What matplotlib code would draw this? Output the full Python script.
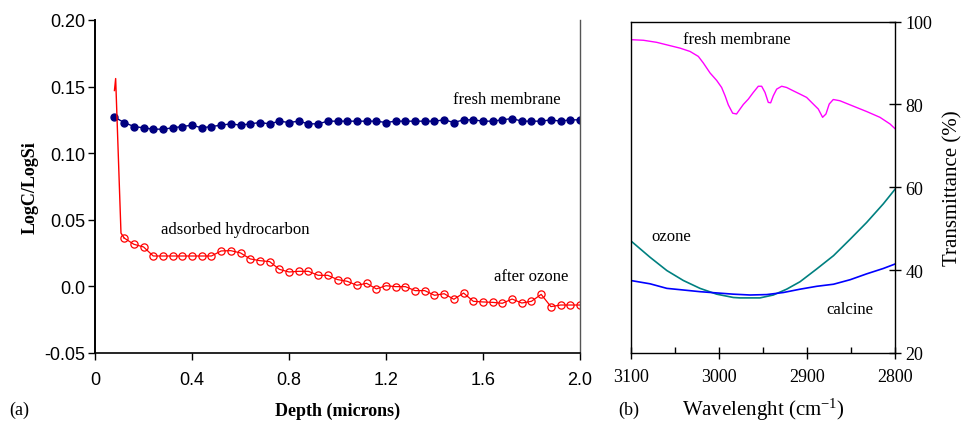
import matplotlib
matplotlib.use("Agg")
import matplotlib.pyplot as plt
from matplotlib.ticker import FixedLocator, FixedFormatter, MultipleLocator
import numpy as np

plt.rcParams["mathtext.fontset"] = "custom"
plt.rcParams["mathtext.rm"] = "Liberation Serif"
plt.rcParams["mathtext.it"] = "Liberation Serif:italic"
plt.rcParams["mathtext.bf"] = "Liberation Serif:bold"

# ---------------- data: panel (a) ----------------
depth_fresh = [round(0.08 + 0.04 * i, 2) for i in range(49)]
ratio_fresh = [0.127, 0.123, 0.120, 0.119, 0.118, 0.118, 0.119, 0.120, 0.121, 0.119,
               0.120, 0.121, 0.122, 0.121, 0.122, 0.123, 0.122, 0.124, 0.123, 0.124,
               0.122, 0.122, 0.124, 0.124, 0.124, 0.124, 0.124, 0.124, 0.123, 0.124,
               0.124, 0.124, 0.124, 0.124, 0.125, 0.123, 0.125, 0.125, 0.124, 0.124,
               0.125, 0.126, 0.124, 0.124, 0.124, 0.125, 0.124, 0.125, 0.125]

depth_lead = [0.080, 0.085, 0.107]
ratio_lead = [0.147, 0.156, 0.040]
depth_ozone = [round(0.12 + 0.04 * i, 2) for i in range(48)]
ratio_ozone = [0.0363, 0.0316, 0.0296, 0.0228, 0.0228, 0.0228, 0.0228, 0.0228, 0.0228, 0.0228,
               0.0266, 0.0268, 0.0251, 0.0206, 0.0193, 0.0186, 0.0128, 0.0108, 0.0113, 0.0113,
               0.0083, 0.0083, 0.0051, 0.0038, 0.0008, 0.0023, -0.0019, 0.0005, -0.0002, -0.0002,
               -0.0032, -0.0032, -0.0067, -0.0055, -0.0097, -0.0050, -0.0112, -0.0117, -0.0120, -0.0127,
               -0.0095, -0.0125, -0.0112, -0.0060, -0.0152, -0.0140, -0.0140, -0.0140]

a_xticks = [0, 0.4, 0.8, 1.2, 1.6, 2.0]
a_xticklabels = ["0", "0.4", "0.8", "1.2", "1.6", "2.0"]
a_yticks = [0.20, 0.15, 0.10, 0.05, 0.0, -0.05]
a_yticklabels = ["0.20", "0.15", "0.10", "0.05", "0.0", "-0.05"]

# ---------------- data: panel (b) ----------------
wn_fresh = [3100, 3085.6, 3070.5, 3055.4, 3044, 3032.7, 3023.3, 3017.6, 3010, 3002.5,
            2996.9, 2993, 2989.3, 2984.4, 2980, 2976, 2972.3, 2966.6, 2961, 2955.3,
            2951.5, 2947.7, 2944, 2941.3, 2938.3, 2934.5, 2928.8, 2923.2, 2915.7, 2908,
            2900.5, 2893, 2887.3, 2882.4, 2878.6, 2874.9, 2870.3, 2862.8, 2847.7, 2832.5,
            2817.4, 2806, 2800]
t_fresh = [95.65, 95.5, 95.0, 94.2, 93.6, 92.8, 91.6, 90.0, 87.6, 85.8,
           84.1, 82.1, 79.9, 77.9, 77.7, 78.9, 80.0, 81.3, 82.9, 84.4,
           84.4, 82.9, 80.5, 80.4, 82.1, 83.7, 84.4, 84.1, 83.3, 82.5,
           81.7, 80.1, 78.9, 76.9, 77.7, 80.1, 81.2, 80.9, 79.6, 78.3,
           76.9, 75.3, 74.1]

wn_ozone = [3100, 3078, 3059, 3040.3, 3021.4, 3002.5, 2983.6, 2976, 2953.4, 2938.3,
            2923.2, 2908, 2889, 2870, 2851, 2832.5, 2813.6, 2800]
t_ozone = [47.1, 43.1, 39.9, 37.5, 35.6, 34.2, 33.4, 33.3, 33.3, 34.0,
           35.4, 37.2, 40.3, 43.5, 47.5, 51.5, 56.0, 59.6]

wn_calcine = [3100, 3078, 3059, 3040, 3021.4, 3002.5, 2983.6, 2964.7, 2945.8, 2926.9,
              2908, 2889, 2870, 2851, 2832.5, 2813.6, 2800]
t_calcine = [37.5, 36.7, 35.6, 35.2, 34.8, 34.5, 34.2, 34.0, 34.1, 34.6,
             35.4, 36.1, 36.6, 37.7, 39.1, 40.4, 41.5]

b_yticks = [20, 40, 60, 80, 100]
b_xticks = [3100, 3000, 2900, 2800]

SERIF = ["Liberation Serif", "DejaVu Serif"]
SANS = ["Liberation Sans", "DejaVu Sans"]

fig = plt.figure(figsize=(9.61, 4.27), dpi=100)

# ---------------- panel (a) ----------------
ax = fig.add_axes([0.0989, 0.171, 0.5046, 0.780])
ax.plot(depth_fresh, ratio_fresh, color="#000080", marker="o", markersize=5,
        linewidth=1.0, markerfacecolor="#000080", markeredgecolor="#000080")
ax.plot(depth_lead + depth_ozone[:1], ratio_lead + ratio_ozone[:1], color="#ff0000", linewidth=1.0)
ax.plot(depth_ozone, ratio_ozone, color="#ff0000", marker="o", markersize=5.2,
        linewidth=0.9, markerfacecolor="none", markeredgecolor="#ff0000", markeredgewidth=0.9)
ax.set_xlim(0, 2.0)
ax.set_ylim(-0.05, 0.20)
ax.xaxis.set_major_locator(FixedLocator(a_xticks))
ax.xaxis.set_major_formatter(FixedFormatter(a_xticklabels))
ax.yaxis.set_major_locator(FixedLocator(a_yticks))
ax.yaxis.set_major_formatter(FixedFormatter(a_yticklabels))
ax.tick_params(direction="out", length=5, width=1.0, labelsize=13)
ax.tick_params(axis="x", pad=8)
ax.tick_params(axis="y", pad=2)
for lab in ax.get_xticklabels() + ax.get_yticklabels():
    lab.set_family(SANS)
ax.spines["top"].set_visible(False)
ax.spines["right"].set_color("#555555")
ax.spines["right"].set_linewidth(1.0)
ax.spines["left"].set_linewidth(1.4)
ax.spines["bottom"].set_linewidth(1.2)
ax.set_xlabel("Depth (microns)", family=SERIF, fontweight="bold", fontsize=13, labelpad=10)
ax.set_ylabel("LogC/LogSi", family=SERIF, fontweight="bold", fontsize=13, labelpad=4)
ax.text(1.70, 0.141, "fresh membrane", family=SERIF, fontsize=12, ha="center", va="center")
ax.text(0.577, 0.043, "adsorbed hydrocarbon", family=SERIF, fontsize=12, ha="center", va="center")
ax.text(1.80, 0.0078, "after ozone", family=SERIF, fontsize=12, ha="center", va="center")
fig.text(0.0198, 0.040, "(a)", family=SERIF, fontsize=13, ha="center", va="center")

# ---------------- panel (b) ----------------
bx = fig.add_axes([0.6563, 0.171, 0.2753, 0.776])
bx.plot(wn_fresh, t_fresh, color="#ff00ff", linewidth=1.0)
bx.plot(wn_ozone, t_ozone, color="#008080", linewidth=1.2)
bx.plot(wn_calcine, t_calcine, color="#0000ff", linewidth=1.2)
bx.set_xlim(3100, 2800)
bx.set_ylim(20, 100)
bx.yaxis.tick_right()
bx.yaxis.set_label_position("right")
bx.xaxis.set_major_locator(FixedLocator(b_xticks))
bx.xaxis.set_minor_locator(MultipleLocator(50))
bx.yaxis.set_major_locator(FixedLocator(b_yticks))
bx.tick_params(which="major", direction="inout", length=9, width=1.0, labelsize=13)
bx.tick_params(axis="x", which="major", pad=6)
bx.tick_params(axis="y", which="major", pad=3)
bx.tick_params(which="minor", direction="in", length=4, width=1.0)
for lab in bx.get_xticklabels() + bx.get_yticklabels():
    lab.set_family(SERIF)
for sp in bx.spines.values():
    sp.set_linewidth(1.0)
bx.set_xlabel("Wavelenght (cm$^{\\mathregular{-1}}$)", family=SERIF, fontsize=15, labelpad=8)
bx.set_ylabel("Transmittance (%)", family=SERIF, fontsize=15, labelpad=8)
bx.text(2979.5, 95.8, "fresh membrane", family=SERIF, fontsize=12, ha="center", va="center")
bx.text(3054, 48.2, "ozone", family=SERIF, fontsize=12, ha="center", va="center")
bx.text(2851.5, 30.5, "calcine", family=SERIF, fontsize=12, ha="center", va="center")
fig.text(0.6545, 0.040, "(b)", family=SERIF, fontsize=13, ha="center", va="center")

fig.savefig("out.png", dpi=100)
